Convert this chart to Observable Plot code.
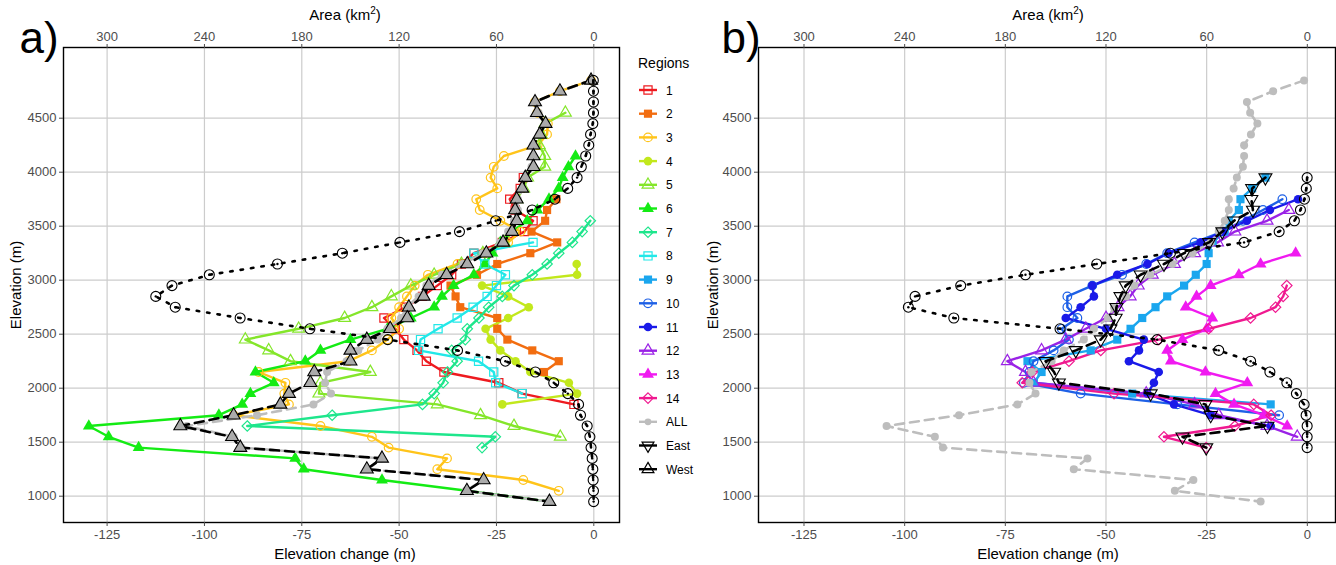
<!DOCTYPE html>
<html><head><meta charset="utf-8">
<script src="https://cdn.jsdelivr.net/npm/d3@7"></script>
<script src="https://cdn.jsdelivr.net/npm/@observablehq/plot@0.6"></script>
<style>
body{margin:0;background:#fff;font-family:"Liberation Sans",Arial,sans-serif;}
#wrap{position:relative;width:1336px;height:565px;overflow:hidden;background:#fff;}
.lbl{position:absolute;white-space:nowrap;transform:translate(-50%,-50%);color:#000;font-size:15px;}
.big{font-size:44px;}
.rot{transform:translate(-50%,-50%) rotate(-90deg);}
</style></head><body><div id="wrap"></div>
<script>
const _ = null;
// elevation bins (m)
const elevBins = [4850,4750,4650,4550,4450,4350,4250,4150,4050,3950,3850,3750,3650,3550,3450,3350,3250,3150,3050,2950,2850,2750,2650,2550,2450,2350,2250,2150,2050,1950,1850,1750,1650,1550,1450,1350,1250,1150,1050,950];
const xTicks = [-125,-100,-75,-50,-25,0];
const areaTickLabels = [300,240,180,120,60,0];
const yTicks = [1000,1500,2000,2500,3000,3500,4000,4500];

// area (km2) per bin
const areaWest = [0.3,0.2,0.2,0.2,0.6,2.0,3.1,5.0,7.7,10.3,16.1,24,38,60.5,82.8,119.5,155,195,237,260,270,258,218,175,127,84,54.5,36,24.7,16,9.4,8.2,4.1,2.4,1.7,1.0,0.6,0.4,0.2,0.1];
const areaEast = [_,_,_,_,_,_,_,_,_,0.1,0.6,1.7,4.1,7.7,16.8,37.7,81.6,125.5,168,206.6,233.8,237.8,210.7,147.4,89.5,52.8,33.8,22.3,12.2,6.5,1.9,0.7,0.1,0.1,0.1,_,_,_,_,_];

// elevation change (m) per bin
const allChange = [-0.8,-8.5,-15,-14.2,-12.4,-14,-15.7,-15.7,-16,-17.5,-18.3,-19.5,-19.5,-20.5,-22,-24,-28.5,-33.5,-39,-43,-45,-48,-49.5,-53,-55.5,-60.5,-63.5,-68.5,-69,-67.5,-72,-86.5,-104.5,-92.5,-90.5,-54.6,-58,-28.3,-32.9,-11.6];
const westChange = [-0.7,-8.7,-15.1,-14.6,-12.4,-13.9,-15.5,-15.5,-15.5,-17.6,-18.4,-19.8,-20.2,-19.8,-21,-23.3,-27.6,-32.5,-37.8,-42.4,-43.7,-47.5,-47.9,-52.3,-58.3,-62.5,-62.5,-71.8,-72.8,-78.3,-80.5,-92.5,-106.2,-92.9,-90.8,-54.4,-58.3,-28.3,-32.6,-11.4];
const eastChange = [_,_,_,_,_,_,_,_,_,-10.4,-13.7,-13.9,-13.5,-18.2,-21.1,-24.4,-30.6,-35.6,-41.4,-45.1,-46.4,-47.4,-47.6,-48.9,-51.3,-57.5,-65,-62.9,-61.7,-38.9,-25.3,-24,-9.9,-31,-25.1,_,_,_,_,_];

// regions: top bin elevation and values downward
const regionNames = ["1","2","3","4","5","6","7","8","9","10","11","12","13","14"];
const regionTops = [3950,3750,4850,3150,4550,4150,3550,3350,3950,3750,3750,3650,3250,2950];
const r1 = [-18.1,-18.9,-21.6,-20.2,-15.6,-17.8,-23.5,-30.8,-34,-36.5,-40.2,-44,-48.4,-53.9,-51,-48.8,-45.4,-43,-38.5,-24.4,-18.4,-5.1];
const r2 = [-9.6,-12,-12.5,-16,-9.4,-16.3,-24.8,-30,-36.8,-35.5,-34.3,-24.8,-24.8,-22.2,-15.8,-9,-12.8];
const r3 = [-0.7,-8.7,-15.1,-14.5,-11.8,-12,-14.4,-23.1,-25.7,-26.5,-24.8,-30.2,-29.3,-24,-18.8,-22,-28,-35,-42.6,-46,-48,-50,-52,-50,-53,-57,-63,-86.1,-79.2,-79.5,-78.3,-92.5,-70.2,-57,-52.7,-37.7,-40.2,-18.1,-9];
const r4 = [-4.4,-4.3,-28.7,-22,-16.7,-22,-27.8,-26.5,-24,-20.1,-16.3,-6.4,-4.3,-23.5];
const r5 = [-7.3,-12.5,-13.5,-14,-12.6,-12.6,-17,-18,-19.8,-20,-19.8,-21,-23,-28.5,-34,-41,-47,-52,-57,-64,-75.8,-89.5,-83.5,-77.9,-57.4,-70.2,-70.6,-40.2,-29.1,-20.5,-8.6];
const r6 = [-4.7,-6.5,-8,-9,-11.5,-14.5,-17.1,-21,-24,-26,-28,-30.8,-36,-39,-41,-47,-53,-62.5,-70.2,-74.1,-86.9,-82.2,-88.2,-90.3,-96.3,-129.7,-124.6,-116.9,-76.7,-74.5,-54.4,-32.6,-11.4];
const r7 = [-0.9,-3,-5.5,-9,-12,-15.8,-20.5,-23.5,-27,-29.5,-32.5,-33,-36.5,-35.1,-37.6,-38.7,-41,-44,-67.2,-89,-25.3,-28.7];
const r8 = [-15.6,-30.8,-28,-22.7,-25,-27.4,-31,-35.1,-40,-44.5,-45,-29.6,-25.7,-25.2,-18.4];
const r9 = [-10.4,-13.7,-16.6,-17,-19.5,-20.5,-23.5,-24.5,-25,-27.7,-30.6,-34.8,-37.7,-41,-43.9,-47.2,-53.8,-69.5,-66,-67.9,-43.5,-9.1];
const r10 = [-6.2,-11,-16,-21,-28,-34.8,-40,-46,-53.4,-59.6,-59.6,-57.1,-61,-59.2,-63,-68,-69,-70.4,-56.3,-32.3,-7];
const r11 = [-2.3,-9.3,-15,-21,-26.5,-34.5,-39.7,-47.2,-53.4,-53,-56.3,-60,-50,-40.6,-41.8,-44.3,-36.9,-38.1,-39.7,-33.1,-24,-9.1];
const r12 = [-4.6,-10,-18,-22.3,-28,-33,-38.5,-42,-44,-47,-50,-55,-60,-66,-74.5,-70,-68,-40,-28,-22,-10,-2.5];
const r13 = [-2.9,-11.6,-17,-24,-27.5,-30.2,-23.6,-25,-31,-34.8,-33.9,-25.3,-14.9,-22.8,-18.2,-10.8,-5];
const r14 = [-5.1,-6,-7.9,-14.1,-24.5,-36.9,-51.3,-59.2,-68.3,-70.8,-48,-13.3,-9,-18,-35.6,-25.1];
const regionValues = [r1,r2,r3,r4,r5,r6,r7,r8,r9,r10,r11,r12,r13,r14];
const regionColors = ["#ee1a1f","#f26d10","#ffc41a","#c2e81c","#84e62a","#14eb14","#1ee68c","#22e8e8","#1aa6ee","#1e60e6","#1a1ae8","#9a22e6","#f01af0","#f01990"];
const regionShapes = ["square","square","circle","circle","triangle","triangle","diamond","square","square","circle","circle","triangle","triangle","diamond"];
const regionFilled = [false,true,false,true,false,true,false,false,true,false,true,false,true,false];

const kmPerM = areaTickLabels[0] / -xTicks[0];
const yDomain = [756.5, 5154.6];

const triDown = { draw(ctx, size){ const y = -Math.sqrt(size/(Math.sqrt(3)*3)); ctx.moveTo(0,-y*2); ctx.lineTo(-Math.sqrt(3)*y, y); ctx.lineTo(Math.sqrt(3)*y, y); ctx.closePath(); } };
const symMap = {square: d3.symbolSquare, circle: d3.symbolCircle, triangle: d3.symbolTriangle, diamond: d3.symbolDiamond2, down: triDown};
const rMap = {square:4.6, circle:4.3, triangle:4.4, diamond:4.7, down:4.4};

function fromTop(top, vals){ const s = elevBins.indexOf(top); return vals.map((v,i)=>({elev: elevBins[s+i], v})); }
function aligned(vals){ return vals.map((v,i)=>({elev: elevBins[i], v})).filter(d=>d.v!=null); }

function buildPanel(cfg){
  const marks = [
    Plot.gridX(xTicks, {stroke:"#cccccc", strokeOpacity:1, strokeWidth:1.2}),
    Plot.gridY(yTicks, {stroke:"#cccccc", strokeOpacity:1, strokeWidth:1.2})
  ];
  for (const k of cfg.regions) {
    marks.push(Plot.line(fromTop(regionTops[k], regionValues[k]), {x:"v", y:"elev", stroke: regionColors[k], strokeWidth:2.4}));
  }
  for (const k of cfg.regions) {
    const shp = regionShapes[k], col = regionColors[k], f = regionFilled[k];
    marks.push(Plot.dot(fromTop(regionTops[k], regionValues[k]), {x:"v", y:"elev", symbol: symMap[shp], r: rMap[shp],
      fill: f ? col : "none", stroke: f ? "none" : col, strokeWidth:1.2}));
  }
  const allRows = aligned(allChange);
  marks.push(Plot.line(allRows, {x:"v", y:"elev", stroke:"#bdbdbd", strokeWidth:2.6, strokeDasharray:"9,6"}));
  marks.push(Plot.dot(allRows, {x:"v", y:"elev", r:4, fill:"#bdbdbd", stroke:"none"}));
  const gRows = aligned(cfg.group);
  marks.push(Plot.line(gRows, {x:"v", y:"elev", stroke:"#000", strokeWidth:2.6, strokeDasharray:"9,6"}));
  marks.push(Plot.dot(gRows, {x:"v", y:"elev", symbol: symMap[cfg.groupShape], r: 4.8, fill: cfg.groupFill, stroke:"#000", strokeWidth:1.1}));
  const aRows = aligned(cfg.area).map(d => ({elev:d.elev, v: -d.v / kmPerM}));
  marks.push(Plot.line(aRows, {x:"v", y:"elev", stroke:"#000", strokeWidth:2.6, strokeDasharray:"2.5,8"}));
  marks.push(Plot.dot(aRows, {x:"v", y:"elev", r:5, fill:"none", stroke:"#000", strokeWidth:1.1}));
  marks.push(Plot.dot(aRows, {x:"v", y:"elev", r:1.2, fill:"#000", stroke:"none"}));
  marks.push(Plot.frame({stroke:"#000", strokeWidth:1.4}));
  marks.push(Plot.axisX(xTicks, {anchor:"bottom", label:null, tickSize:4, tickPadding:3, tickFormat: d => String(d)}));
  marks.push(Plot.axisX(xTicks, {anchor:"top", label:null, tickSize:4, tickPadding:3, tickFormat: d => String(areaTickLabels[xTicks.indexOf(d)])}));
  marks.push(Plot.axisY(yTicks, {anchor:"left", label:null, tickSize:4, tickPadding:3, tickFormat: d => String(d)}));
  return Plot.plot({
    width: cfg.width, height: 565,
    marginLeft: cfg.mL, marginRight: cfg.mR, marginTop: 47, marginBottom: 43,
    x: {domain: cfg.xDomain}, y: {domain: yDomain},
    style: {fontFamily:'"Liberation Sans", Arial, sans-serif', fontSize:"13px", color:"#4d4d4d", background:"transparent"},
    marks
  });
}

const wrap = document.getElementById("wrap");
function place(node, left, top){ node.style.position="absolute"; node.style.left=left+"px"; node.style.top=top+"px"; wrap.appendChild(node); }
function text(html, x, y, cls){ const d=document.createElement("div"); d.className="lbl "+(cls||""); d.innerHTML=html; d.style.left=x+"px"; d.style.top=y+"px"; wrap.appendChild(d); }

const pa = buildPanel({width:625, mL:63, mR:6, xDomain:[-136.2, 6.6], regions:[0,1,2,3,4,5,6,7], group: westChange, groupShape:"triangle", groupFill:"#ababab", area: areaWest});
place(pa, 0, 0);
const pb = buildPanel({width:636, mL:58, mR:1, xDomain:[-136.3, 7.0], regions:[8,9,10,11,12,13], group: eastChange, groupShape:"down", groupFill:"none", area: areaEast});
place(pb, 700, 0);

// legend
const legendItems = regionNames.map((n,i)=>({label:n, color:regionColors[i], shape:regionShapes[i], filled:regionFilled[i]}))
  .concat([{label:"ALL", color:"#bdbdbd", shape:"circle", filled:true, small:true},{label:"East", color:"#000", shape:"down", filled:false},{label:"West", color:"#000", shape:"triangle", filled:false}]);
const lg = d3.create("svg").attr("width",80).attr("height",565).style("font-family",'"Liberation Sans", Arial, sans-serif');
const lx = 630;
lg.append("text").attr("x",638-lx).attr("y",68).attr("font-size","14px").attr("fill","#000").text("Regions");
legendItems.forEach((it,i)=>{
  const cy = 90 + i*23.7;
  lg.append("line").attr("x1",639-lx).attr("x2",657-lx).attr("y1",cy).attr("y2",cy).attr("stroke",it.color).attr("stroke-width",2.4);
  const r = it.small ? 3.4 : rMap[it.shape];
  lg.append("path").attr("d", d3.symbol(symMap[it.shape], Math.PI*r*r)()).attr("transform",`translate(${648-lx},${cy})`)
    .attr("fill", it.filled ? it.color : "none").attr("stroke", it.filled ? "none" : it.color).attr("stroke-width",1.2);
  lg.append("text").attr("x",666-lx).attr("y",cy+4.5).attr("font-size","12px").attr("fill","#000").text(it.label);
});
place(lg.node(), lx, 0);

text("a)", 39, 38, "big");
text("b)", 741, 38, "big");
text("Area (km<sup style='font-size:10px'>2</sup>)", 345, 14);
text("Area (km<sup style='font-size:10px'>2</sup>)", 1048, 14);
text("Elevation change (m)", 345, 553);
text("Elevation change (m)", 1048, 553);
text("Elevation (m)", 15, 285, "rot");
text("Elevation (m)", 712, 285, "rot");
</script></body></html>
